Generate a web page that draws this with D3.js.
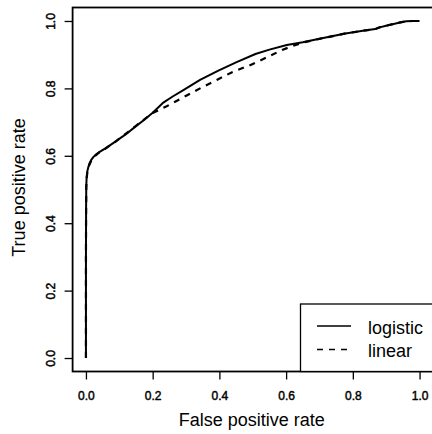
<!DOCTYPE html>
<html><head><meta charset="utf-8">
<script src="https://cdn.jsdelivr.net/npm/d3@7"></script>
<style>body{margin:0;background:#fff}svg{display:block}text{font-family:"Liberation Sans",Arial,sans-serif;fill:#000}</style>
</head><body><svg id="c" width="432" height="434"></svg>
<script>
const xTicks = [0, 0.2, 0.4, 0.6, 0.8, 1.0];
const yTicks = [0, 0.2, 0.4, 0.6, 0.8, 1.0];
const tickLabels = ["0.0", "0.2", "0.4", "0.6", "0.8", "1.0"];
const seriesNames = ["logistic", "linear"];
const logisticFPR = [0, 0, 0.0005, 0.001, 0.002, 0.004, 0.007, 0.011, 0.016, 0.022, 0.03, 0.04, 0.058, 0.075, 0.088, 0.105, 0.12, 0.15, 0.175, 0.2, 0.232, 0.26, 0.292, 0.342, 0.397, 0.45, 0.508, 0.55, 0.602, 0.65, 0.7, 0.778, 0.83, 0.867, 0.88, 0.9, 0.938, 0.96, 0.978, 1.0];
const logisticTPR = [0, 0.3, 0.45, 0.51, 0.535, 0.553, 0.566, 0.578, 0.588, 0.596, 0.604, 0.611, 0.622, 0.633, 0.642, 0.654, 0.664, 0.688, 0.707, 0.728, 0.758, 0.776, 0.795, 0.825, 0.853, 0.877, 0.902, 0.915, 0.929, 0.937, 0.947, 0.963, 0.971, 0.976, 0.981, 0.986, 0.995, 0.999, 1.0, 1.0];
const linearFPR = [0, 0, 0.0005, 0.001, 0.002, 0.004, 0.007, 0.011, 0.016, 0.022, 0.03, 0.04, 0.06, 0.075, 0.09, 0.105, 0.12, 0.15, 0.175, 0.2, 0.242, 0.27, 0.302, 0.342, 0.392, 0.438, 0.492, 0.54, 0.588, 0.62, 0.65, 0.7, 0.778, 0.83, 0.867, 0.88, 0.9, 0.938, 0.96, 0.978, 1.0];
const linearTPR = [0, 0.3, 0.44, 0.505, 0.53, 0.55, 0.563, 0.575, 0.585, 0.594, 0.602, 0.61, 0.622, 0.633, 0.643, 0.655, 0.666, 0.689, 0.708, 0.727, 0.747, 0.762, 0.779, 0.800, 0.825, 0.848, 0.869, 0.891, 0.914, 0.926, 0.936, 0.947, 0.963, 0.971, 0.976, 0.981, 0.986, 0.995, 0.999, 1.0, 1.0];
const xTitle = "False positive rate";
const yTitle = "True positive rate";

const svg = d3.select("#c");
const L = 72.6, R = 432.9, T = 7.5, B = 371.5;
const pad = 0.04 * (R - L) / 1.08;
const padY = 0.04 * (B - T) / 1.08;
const x = d3.scaleLinear().domain([0, 1]).range([L + pad, R - pad]);
const y = d3.scaleLinear().domain([0, 1]).range([B - padY, T + padY]);

const line = d3.line().x(d => x(d[0])).y(d => y(d[1]));
const logPts = logisticFPR.map((v, i) => [v, logisticTPR[i]]);
const linPts = linearFPR.map((v, i) => [v, linearTPR[i]]);

svg.append("path").attr("d", line(linPts)).attr("fill", "none").attr("stroke", "#000")
  .attr("stroke-width", 2.2).attr("stroke-dasharray", "6,6");
svg.append("path").attr("d", line(logPts)).attr("fill", "none").attr("stroke", "#000")
  .attr("stroke-width", 2);

// box
svg.append("rect").attr("x", L).attr("y", T).attr("width", R - L).attr("height", B - T)
  .attr("fill", "none").attr("stroke", "#000").attr("stroke-width", 1.8);

// x axis
const xa = d3.axisBottom(x).tickValues(xTicks).tickSize(8).tickFormat((d, i) => tickLabels[i]);
const gx = svg.append("g").attr("transform", `translate(0,${B})`).call(xa);
gx.select(".domain").remove();
gx.selectAll(".tick line").attr("stroke", "#000").attr("stroke-width", 1.3);
gx.selectAll(".tick text").attr("font-size", 12).attr("y", 0).attr("dy", 0)
  .attr("transform", "translate(0,28.8)").style("font-family", '"Liberation Sans",Arial,sans-serif')
  .attr("fill", "#000").attr("stroke", "#000").attr("stroke-width", 0.45);

// y axis
const ya = d3.axisLeft(y).tickValues(yTicks).tickSize(8).tickFormat((d, i) => tickLabels[i]);
const gy = svg.append("g").attr("transform", `translate(${L},0)`).call(ya);
gy.select(".domain").remove();
gy.selectAll(".tick line").attr("stroke", "#000").attr("stroke-width", 1.3);
gy.selectAll(".tick text").attr("font-size", 12).attr("x", 0).attr("dy", 0)
  .attr("text-anchor", "middle")
  .attr("transform", "translate(-17.5,0) rotate(-90)").style("font-family", '"Liberation Sans",Arial,sans-serif')
  .attr("fill", "#000").attr("stroke", "#000").attr("stroke-width", 0.45);

// titles
svg.append("text").attr("x", (L + R) / 2 - 1).attr("y", 426).attr("text-anchor", "middle")
  .attr("font-size", 18).text(xTitle);
svg.append("text").attr("transform", `translate(25,${(T + B) / 2 - 2}) rotate(-90)`).attr("text-anchor", "middle")
  .attr("font-size", 18).text(yTitle);

// legend
const lg = svg.append("g");
lg.append("rect").attr("x", 300.5).attr("y", 304).attr("width", R - 300.5).attr("height", B - 304)
  .attr("fill", "#fff").attr("stroke", "#000").attr("stroke-width", 1.3);
const legY = [326, 349.5];
seriesNames.forEach((nm, i) => {
  lg.append("line").attr("x1", 317).attr("x2", 351).attr("y1", legY[i]).attr("y2", legY[i])
    .attr("stroke", "#000").attr("stroke-width", 1.5).attr("stroke-dasharray", i ? "6,6" : null);
  lg.append("text").attr("x", 368).attr("y", legY[i] + 7.5).attr("font-size", 18).text(nm);
});
</script></body></html>
